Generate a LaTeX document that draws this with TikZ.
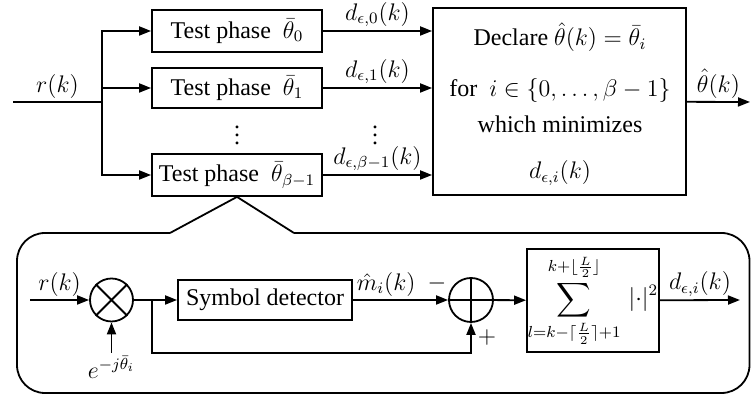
\documentclass[tikz,border=0pt,12pt]{standalone}
\usepackage{amsmath}
\usepackage{amssymb}
\usepackage{fontspec}
\setmainfont{Liberation Serif}
\usetikzlibrary{arrows.meta}

\begin{document}
\begin{tikzpicture}[x=0.5pt,y=-0.5pt,line width=0.9pt]
  \tikzstyle{box}=[rectangle,draw,inner sep=0pt]
  \tikzstyle{arr}=[-{Triangle[length=6pt,width=4.5pt]}]
  \tikzstyle{junc}=[circle,draw,minimum size=22pt,inner sep=0pt]
  \tikzstyle{lbl}=[above,inner sep=1.5pt]
  \useasboundingbox (0,0) rectangle (751,399);
  % bank of phase tests
  \coordinate (in)   at (13,102);
  \coordinate (fork) at (102,102);
  \node [box,minimum width=85pt,minimum height=21pt] (test0) at (237,31)  {Test phase~ $\bar{\theta}_0$};
  \node [box,minimum width=85pt,minimum height=20pt] (test1) at (237,88)  {Test phase~ $\bar{\theta}_1$};
  \node [box,minimum width=85pt,minimum height=21pt] (test2) at (237,175) {Test phase~ $\bar{\theta}_{\beta-1}$};
  \node (dots1) at (237,129) {$\vdots$};
  \node (dots2) at (375,129) {$\vdots$};
  \node [box,minimum width=126.5pt,minimum height=93.5pt] (decide) at (559.5,101.5) {};
  \node [align=center] (rule) at (560,104) {Declare $\hat{\theta}(k)=\bar{\theta}_i$\\[11pt]
    for~ $i\in\{0,\ldots,\beta-1\}$\\[3.5pt] which minimizes\\[8.5pt] $d_{\epsilon,i}(k)$};
  \coordinate (out) at (750,102);
  \draw (in) -- node [lbl] {$r(k)$} (fork);
  \draw [arr] (fork) |- (test0);
  \draw [arr] (fork) |- (test1);
  \draw [arr] (fork) |- (test2);
  \draw [arr] (test0) -- node [lbl] {$d_{\epsilon,0}(k)$} (test0 -| decide.west);
  \draw [arr] (test1) -- node [lbl] {$d_{\epsilon,1}(k)$} (test1 -| decide.west);
  \draw [arr] (test2) -- node [lbl] {$d_{\epsilon,\beta-1}(k)$} (test2 -| decide.west);
  \draw [arr] (decide) -- node [lbl] {$\hat{\theta}(k)$} (out);
  % zoomed view of one test
  \draw [rounded corners=14pt] (170,233) -- (17,233) -- (17,393) -- (749.5,393) -- (749.5,233) -- (294,233);
  \draw (170,233) -- (test2.south) -- (294,233);
  \coordinate (rin) at (30,300);
  \node [junc,minimum size=21.5pt] (mix) at (111.5,300) {};
  \draw (mix.north west) -- (mix.south east) (mix.north east) -- (mix.south west);
  \coordinate (phin) at (111.5,353);
  \node [below,inner sep=1pt] (phase) at (phin) {$e^{-j\bar{\theta}_i}$};
  \coordinate (tap) at (152,300);
  \node [box,minimum width=87pt,minimum height=20pt] (detect) at (265,300) {Symbol detector};
  \node [junc] (sub) at (471,300) {};
  \draw (sub.north) -- (sub.south) (sub.west) -- (sub.east);
  \node [box,minimum width=66pt,minimum height=51.5pt] (window) at (593,300.5)
    {$\displaystyle\sum_{l=k-\lceil\frac{L}{2}\rceil+1}^{k+\lfloor\frac{L}{2}\rfloor}\,|{\cdot}|^2$};
  \coordinate (dout) at (740,300);
  \draw [arr] (rin) -- node [lbl] {$r(k)$} (mix);
  \draw [arr] (phin) -- (mix);
  \draw (mix) -- (tap);
  \draw [arr] (tap) -- (detect);
  \draw [arr] (detect) -- node [lbl,pos=0.35] {$\hat{m}_i(k)$} (sub);
  \draw [arr] (tap) -- ++(0,53) -| (sub);
  \draw [arr] (sub) -- (window);
  \draw [arr] (window) -- node [lbl] {$d_{\epsilon,i}(k)$} (dout);
  \node (minus) at (437,284) {$-$};
  \node (plus)  at (487,338) {$+$};
\end{tikzpicture}
\end{document}
